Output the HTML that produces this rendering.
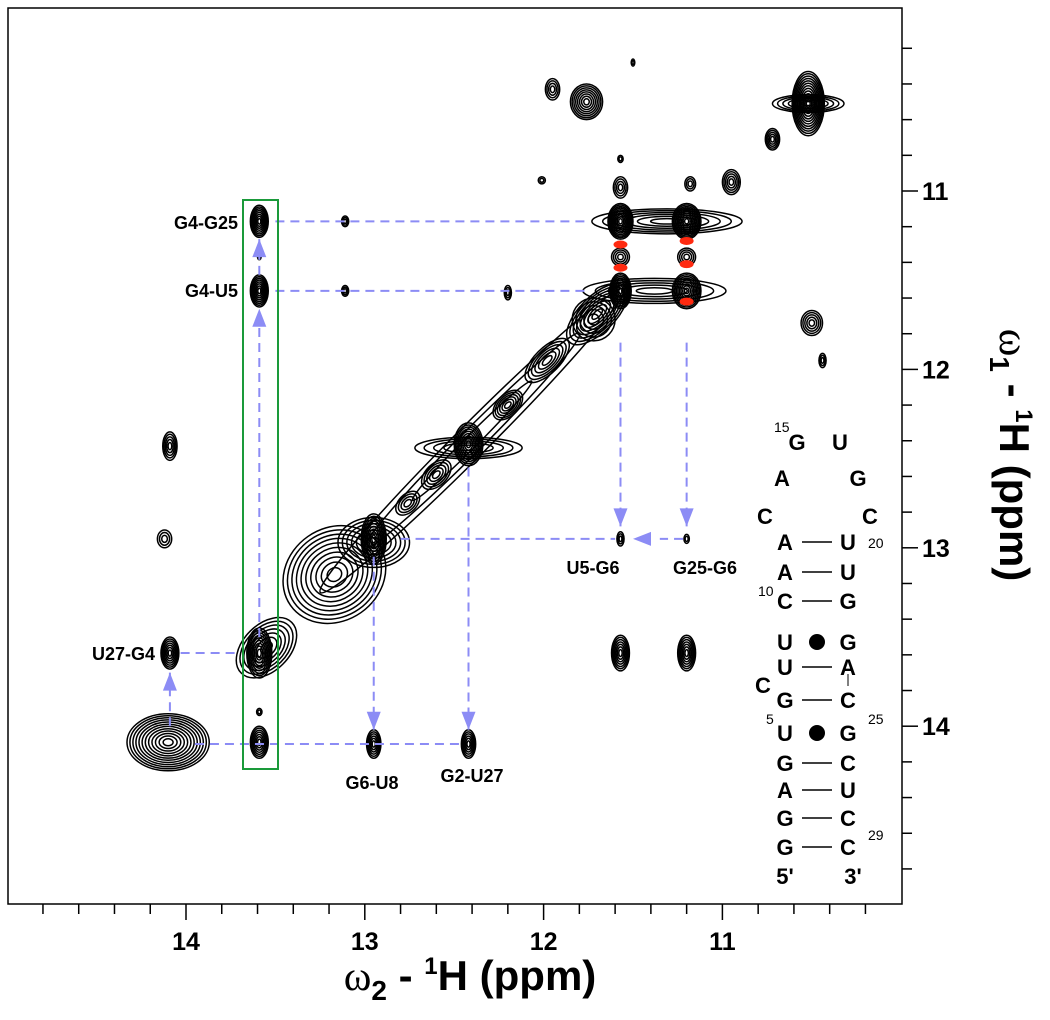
<!DOCTYPE html>
<html><head><meta charset="utf-8"><style>
html,body{margin:0;padding:0;background:#fff;}
svg{display:block;font-family:"Liberation Sans",sans-serif;}
.lab{font-weight:bold;font-size:18px;fill:#000;}
.nt{font-weight:bold;font-size:22px;fill:#000;}
.sup{font-size:14px;fill:#000;}
.tk{font-weight:bold;font-size:25px;fill:#000;}
</style></head><body>
<svg id="chart" width="1050" height="1020" viewBox="0 0 1050 1020">
<g id="peaks"></g>
<g id="ann"></g>
<rect x="8" y="8" width="894" height="896" fill="none" stroke="#000" stroke-width="1.5"/>
<g id="axes"></g>
<text x="470" y="990" text-anchor="middle" style="font-weight:bold;font-size:42px"><tspan style="font-family:'Liberation Serif',serif;font-weight:normal">ω</tspan><tspan font-size="28" dy="10">2</tspan><tspan dy="-10"> - </tspan><tspan font-size="24" dy="-16">1</tspan><tspan dy="16">H (ppm)</tspan></text>
<text transform="translate(1000,455) rotate(90)" text-anchor="middle" style="font-weight:bold;font-size:42px"><tspan style="font-family:'Liberation Serif',serif;font-weight:normal">ω</tspan><tspan font-size="28" dy="10">1</tspan><tspan dy="-10"> - </tspan><tspan font-size="24" dy="-16">1</tspan><tspan dy="16">H (ppm)</tspan></text>
<g id="rna">
<text class="sup" x="774" y="432">15</text><text class="nt" x="797" y="450" text-anchor="middle">G</text><text class="nt" x="840" y="450" text-anchor="middle">U</text>
<text class="nt" x="782" y="486" text-anchor="middle">A</text><text class="nt" x="858" y="486" text-anchor="middle">G</text>
<text class="nt" x="765" y="524" text-anchor="middle">C</text><text class="nt" x="870" y="524" text-anchor="middle">C</text>
</g>
</svg>
<script>
// ---- data (ppm) ----
const peakX  = [13.59,13.59,13.59,13.11,13.11,12.20,12.95,12.42,13.59,13.59,14.09,14.09,14.12,11.57,11.20,11.57,11.20,11.76,11.95,11.50,10.52,10.52,10.72,10.95,11.57,11.57,12.01,11.18,10.50,10.44,11.57,11.20,11.31,11.57,11.20,11.38,11.57,11.20,11.70,11.72,11.98,12.20,12.42,12.42,12.60,12.76,12.95,12.95,13.17,12.40,13.59,13.55,14.10,11.80];
const peakY  = [11.17,11.56,11.37,11.17,11.56,11.57,14.10,14.10,14.09,13.92,13.59,12.43,12.95,13.59,13.59,12.95,12.95,10.50,10.43,10.28,10.51,10.51,10.71,10.95,10.98,10.82,10.94,10.96,11.74,11.95,11.17,11.17,11.17,11.56,11.56,11.56,11.37,11.37,11.69,11.72,11.95,12.20,12.42,12.44,12.59,12.75,12.95,12.97,13.15,12.40,13.59,13.56,14.09,11.80];
const peakWx = [0.05,0.05,0.01,0.02,0.02,0.02,0.04,0.04,0.05,0.015,0.05,0.04,0.04,0.05,0.05,0.02,0.015,0.09,0.04,0.01,0.09,0.2,0.04,0.05,0.04,0.015,0.02,0.03,0.06,0.02,0.07,0.08,0.42,0.06,0.08,0.40,0.05,0.05,0.22,0.12,0.16,0.10,0.08,0.30,0.10,0.08,0.07,0.2,0.30,1.2,0.07,0.2,0.23,0.55];
const peakWy = [0.09,0.09,0.015,0.03,0.03,0.04,0.08,0.08,0.09,0.02,0.09,0.08,0.05,0.1,0.1,0.04,0.025,0.1,0.06,0.02,0.18,0.05,0.06,0.07,0.06,0.02,0.02,0.04,0.07,0.04,0.1,0.1,0.07,0.1,0.1,0.07,0.05,0.05,0.1,0.12,0.07,0.06,0.12,0.06,0.06,0.05,0.14,0.14,0.26,0.09,0.14,0.13,0.16];
const peakLv = [8,8,2,3,3,3,6,6,7,2,7,5,3,7,7,3,2,8,4,2,12,6,5,5,4,2,2,3,5,3,10,10,6,9,9,5,4,4,8,5,6,6,9,5,5,4,9,7,10,3,9,7,12,4];
const peakRot= [0,0,0,0,0,0,0,0,0,0,0,0,0,0,0,0,0,0,0,0,0,0,0,0,0,0,0,0,0,0,0,0,0,0,0,0,0,0,-45,-45,-45,-45,0,0,-45,-45,0,0,-35,-45,0,-45,0,-45];
const redX = [11.57,11.57,11.20,11.20,11.20];
const redY = [11.30,11.43,11.28,11.41,11.62];
const xTicks = [14,13,12,11];
const yTicks = [11,12,13,14];
// ---- scales ----
const X = p => 186 + (14 - p) * 178.8;
const Y = p => 191 + (p - 11) * 178.4;
const NS = 'http://www.w3.org/2000/svg';
function mk(tag, at, parent){const e=document.createElementNS(NS,tag);for(const k in at)e.setAttribute(k,at[k]);parent.appendChild(e);return e;}
const gp = document.getElementById('peaks');
for (let i=0;i<peakX.length;i++){
  const g = mk('g',{transform:`translate(${X(peakX[i])},${Y(peakY[i])}) rotate(${peakRot[i]})`},gp);
  
  
  const n=peakLv[i], rx=peakWx[i]*178.8, ry=peakWy[i]*178.4;
  for(let k=n;k>=1;k--){const f=Math.pow(k/n,0.85);
    mk('ellipse',{cx:0,cy:0,rx:Math.max(rx*f,0.8),ry:Math.max(ry*f,0.8),fill:'none',stroke:'#000','stroke-width':1.5},g);}
}
for (let i=0;i<redX.length;i++){
  const e=mk('ellipse',{cx:X(redX[i]),cy:Y(redY[i]),rx:7,ry:4,fill:'#ff2a10'},gp);
  
  
}
// ---- annotations ----
const ga=document.getElementById('ann');
const blue='#8c8cf5';
function dash(x1,y1,x2,y2){const l=mk('line',{x1:X(x1),y1:Y(y1),x2:X(x2),y2:Y(y2),stroke:blue,'stroke-width':2,'stroke-dasharray':'9 6'},ga);
  
  }
function arrow(xp,yp,dir){const x=X(xp),y=Y(yp);let pts;
  if(dir==='up')pts=`${x},${y} ${x-7},${y+18} ${x+7},${y+18}`;
  if(dir==='down')pts=`${x},${y} ${x-7},${y-18} ${x+7},${y-18}`;
  if(dir==='left')pts=`${x},${y} ${x+18},${y-7} ${x+18},${y+7}`;
  const a=mk('polygon',{points:pts,fill:blue},ga);
  
  }
dash(13.50,11.17,11.75,11.17); dash(13.50,11.56,11.75,11.56);
dash(13.59,13.50,13.59,11.66); arrow(13.59,11.66,'up');
dash(13.59,11.47,13.59,11.27); arrow(13.59,11.27,'up');
dash(11.57,11.85,11.57,12.88); arrow(11.57,12.88,'down');
dash(11.20,11.85,11.20,12.88); arrow(11.20,12.88,'down');
dash(12.80,12.95,11.60,12.95); dash(11.22,12.95,11.35,12.95); arrow(11.50,12.95,'left');
dash(12.95,13.05,12.95,14.02); arrow(12.95,14.02,'down');
dash(12.42,12.55,12.42,14.02); arrow(12.42,14.02,'down');
dash(13.95,14.10,12.44,14.10);
dash(14.09,14.00,14.09,13.70); arrow(14.09,13.70,'up');
dash(14.03,13.59,13.72,13.59);
const box=mk('rect',{x:243,y:200,width:35,height:569,fill:'none',stroke:'#1a9a3a','stroke-width':2},ga);


const labels=[['G4-G25',238,229,'end'],['G4-U5',238,297,'end'],['U27-G4',155,660,'end'],['U5-G6',593,574,'middle'],['G25-G6',705,574,'middle'],['G6-U8',372,789,'middle'],['G2-U27',472,782,'middle']];
for(const L of labels){const t=mk('text',{x:L[1],y:L[2],'text-anchor':L[3],class:'lab'},ga);t.textContent=L[0];
  
  }
// ---- axes ----
const gx=document.getElementById('axes');
for(let v=14.8;v>=10.15;v-=0.2){const p=Math.round(v*10)/10;const major=Math.abs(p-Math.round(p))<1e-6;
  const l=mk('line',{x1:X(p),y1:904,x2:X(p),y2:major?920:914,stroke:'#000','stroke-width':1.5},gx);
  
  }
for(let v=10.2;v<=14.85;v+=0.2){const p=Math.round(v*10)/10;const major=Math.abs(p-Math.round(p))<1e-6;
  const l=mk('line',{x1:902,y1:Y(p),x2:major?918:912,y2:Y(p),stroke:'#000','stroke-width':1.5},gx);
  
  }
for(const t of xTicks){const e=mk('text',{x:X(t),y:950,'text-anchor':'middle',class:'tk'},gx);e.textContent=t;
  
  }
for(const t of yTicks){const e=mk('text',{x:922,y:Y(t)+9,class:'tk'},gx);e.textContent=t;
  
  }
// ---- RNA stem ----
const gr=document.getElementById('rna');
const rows=[['A','U','-',542],['A','U','-',572],['C','G','-',601],['U','G','o',642],['U','A','-',667],['G','C','-',700],['U','G','o',733],['G','C','-',763],['A','U','-',790],['G','C','-',818],['G','C','-',847]];
for(const r of rows){
  const a=mk('text',{x:785,y:r[3]+8,'text-anchor':'middle',class:'nt'},gr);a.textContent=r[0];
  const b=mk('text',{x:848,y:r[3]+8,'text-anchor':'middle',class:'nt'},gr);b.textContent=r[1];
  if(r[2]==='-')mk('line',{x1:802,y1:r[3],x2:832,y2:r[3],stroke:'#000','stroke-width':1.5},gr);
  else mk('circle',{cx:817,cy:r[3],r:8,fill:'#000'},gr);
}
mk('line',{x1:848,y1:674,x2:848,y2:686},gr).setAttribute('stroke','#000');
const extra=[['C',763,693,'nt'],['5\'',785,884,'nt'],['3\'',853,884,'nt'],['20',868,548,'sup'],['10',758,596,'sup'],['5',766,724,'sup'],['25',868,724,'sup'],['29',868,840,'sup']];
for(const e of extra){const t=mk('text',{x:e[1],y:e[2],class:e[3],'text-anchor':e[3]==='nt'?'middle':'start'},gr);t.textContent=e[0];}
</script>
</body></html>
